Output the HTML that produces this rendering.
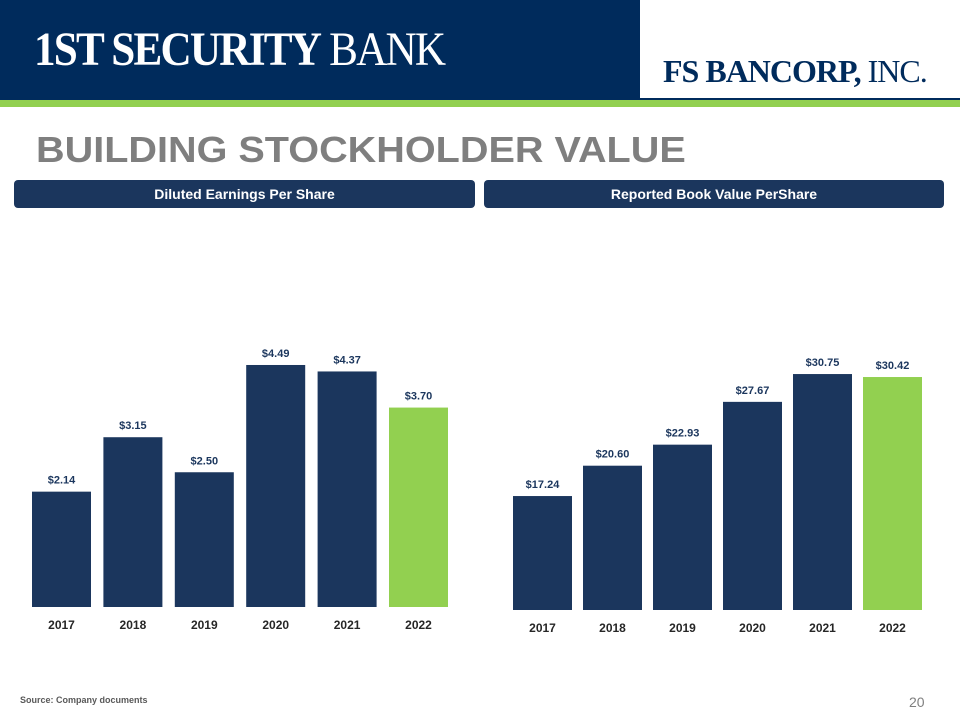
<!DOCTYPE html>
<html><head><meta charset="utf-8"><style>
body{margin:0;width:960px;height:720px;position:relative;background:#fff;font-family:"Liberation Sans",sans-serif;overflow:hidden}
.abs{position:absolute}
</style></head><body>
<div class="abs" style="left:0;top:0;width:960px;height:100px;background:#002b5c"></div>
<div class="abs" style="left:640px;top:0;width:320px;height:98px;background:#fff"></div>
<div class="abs" style="left:0;top:100px;width:960px;height:7px;background:#92d050"></div>
<div class="abs" style="left:34px;top:26px;color:#fff;font-family:'Liberation Serif',serif;font-size:48px;letter-spacing:-2px;line-height:48px;white-space:nowrap;transform:scaleX(0.9);transform-origin:left top"><b>1ST SECURITY</b> BANK</div>
<div class="abs" style="left:663px;top:55px;color:#002b5c;font-family:'Liberation Serif',serif;font-size:32px;line-height:32px;white-space:nowrap;letter-spacing:-1px"><b>FS BANCORP,</b> INC.</div>
<div class="abs" style="left:36px;top:130px;color:#7f7f7f;font-size:36px;font-weight:bold;line-height:40px;white-space:nowrap;transform:scaleX(1.1);transform-origin:left top">BUILDING STOCKHOLDER VALUE</div>
<div class="abs" style="left:14px;top:180px;width:461px;height:28px;background:#1b365d;border-radius:4px;color:#fff;font-size:14px;font-weight:bold;text-align:center;line-height:28px">Diluted Earnings Per Share</div>
<div class="abs" style="left:484px;top:180px;width:460px;height:28px;background:#1b365d;border-radius:4px;color:#fff;font-size:14px;font-weight:bold;text-align:center;line-height:28px">Reported Book Value PerShare</div>
<svg class="abs" style="left:0;top:0" width="960" height="720" id="charts"></svg>
<div class="abs" style="left:20px;top:695px;color:#595959;font-size:9px;font-weight:bold">Source: Company documents</div>
<div class="abs" style="left:909px;top:694px;color:#7f7f7f;font-size:14px">20</div>
<script>
const years=["2017","2018","2019","2020","2021","2022"];
const epsValues=[2.14,3.15,2.50,4.49,4.37,3.70];
const epsLabels=["$2.14","$3.15","$2.50","$4.49","$4.37","$3.70"];
const bvValues=[17.24,20.60,22.93,27.67,30.75,30.42];
const bvLabels=["$17.24","$20.60","$22.93","$27.67","$30.75","$30.42"];
const svg=document.getElementById('charts');
const NS='http://www.w3.org/2000/svg';
function draw(name,vals,labels,x0,step,bw,base,min,pxPerUnit){
  const y=v=>base-(v-min)*pxPerUnit;
  vals.forEach((v,i)=>{
    const x=x0+i*step;
    const r=document.createElementNS(NS,'rect');
    r.setAttribute('x',x);r.setAttribute('y',y(v));r.setAttribute('width',bw);r.setAttribute('height',base-y(v));
    r.setAttribute('fill',i===vals.length-1?'#92d050':'#1b365d');
    
    
    svg.appendChild(r);
    const t=document.createElementNS(NS,'text');
    t.setAttribute('x',x+bw/2);t.setAttribute('y',y(v)-8);t.setAttribute('text-anchor','middle');
    t.setAttribute('font-size','11');t.setAttribute('font-weight','bold');t.setAttribute('fill','#1b365d');
    t.textContent=labels[i];
    
    
    svg.appendChild(t);
    const c=document.createElementNS(NS,'text');
    c.setAttribute('x',x+bw/2);c.setAttribute('y',base+22);c.setAttribute('text-anchor','middle');
    c.setAttribute('font-size','12');c.setAttribute('font-weight','bold');c.setAttribute('fill','#262626');
    c.textContent=years[i];
    
    
    svg.appendChild(c);
  });
}
draw('eps',epsValues,epsLabels,32,71.4,59,607,0,53.9);
draw('bvps',bvValues,bvLabels,513,70,59,610,4.62,9.03);
</script>
</body></html>
